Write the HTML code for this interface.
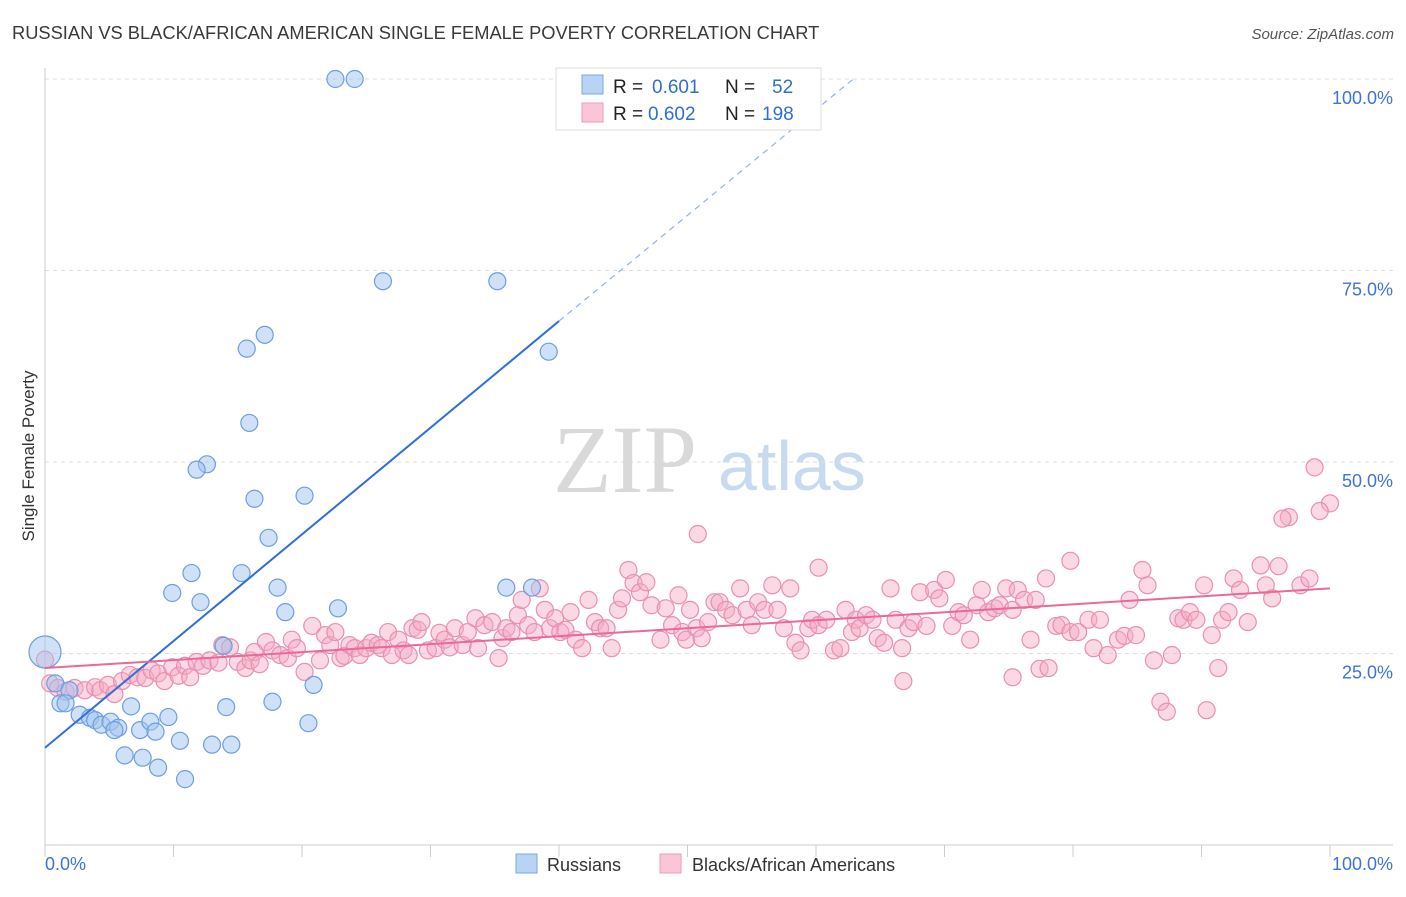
<!DOCTYPE html>
<html><head><meta charset="utf-8"><style>
body{margin:0;background:#fff;width:1406px;height:892px;overflow:hidden;font-family:"Liberation Sans",sans-serif}
</style></head><body>
<svg id="chart" width="1406" height="892" xmlns="http://www.w3.org/2000/svg" font-family="Liberation Sans, sans-serif">
<text x="12" y="39" font-size="18.3" fill="#3a3a3a">RUSSIAN VS BLACK/AFRICAN AMERICAN SINGLE FEMALE POVERTY CORRELATION CHART</text>
<text x="1394" y="39" font-size="15" fill="#555" text-anchor="end" font-style="italic">Source: ZipAtlas.com</text>
<g>
<text x="553" y="492" font-size="96" font-family="Liberation Serif, serif" fill="#d9d9d9">ZIP</text>
<text x="718" y="490" font-size="70" fill="#c8daf0">atlas</text>
</g>
<g id="grid"></g>
<g id="axes"></g>
<g id="marks"></g>
<text transform="translate(34,456) rotate(-90)" font-size="17" fill="#333" text-anchor="middle">Single Female Poverty</text>
<g>
<rect x="556" y="68" width="265" height="62" fill="#fff" stroke="#ddd"/>
<rect x="582" y="75" width="21" height="19" fill="#b9d3f5" stroke="#7aa7e3"/>
<rect x="582" y="103" width="21" height="19" fill="#fac5d6" stroke="#ec9bb6"/>
<text x="613" y="93" font-size="19" fill="#222">R = </text><text x="652" y="93" font-size="19" fill="#2e6fd0">0.601</text>
<text x="725" y="93" font-size="19" fill="#222">N = </text><text x="772" y="93" font-size="19" fill="#2e6fd0">52</text>
<text x="613" y="120" font-size="19" fill="#222">R = </text><text x="648" y="120" font-size="19" fill="#2e6fd0">0.602</text>
<text x="725" y="120" font-size="19" fill="#222">N = </text><text x="762" y="120" font-size="19" fill="#2e6fd0">198</text>
</g>
<g>
<rect x="516" y="854" width="21" height="19" fill="#b9d3f5" stroke="#7aa7e3"/>
<text x="547" y="871" font-size="18" fill="#333">Russians</text>
<rect x="660" y="854" width="21" height="19" fill="#fac5d6" stroke="#ec9bb6"/>
<text x="692" y="871" font-size="18" fill="#333">Blacks/African Americans</text>
</g>
</svg>
<script>
const yTicks=[25,50,75,100];
const yTickLabels=["25.0%","50.0%","75.0%","100.0%"];
const xEndLabels=["0.0%","100.0%"];
const blueX=[22.6,24.1,26.3,35.2,17.1,15.7,39.2,15.9,12.6,11.8,16.3,20.2,17.4,15.3,11.4,9.9,12.1,18.1,18.7,22.8,35.9,37.9,13.9,0.8,1.9,1.2,1.6,2.7,3.5,3.9,4.4,5.1,5.7,6.7,7.4,8.2,8.6,9.6,5.4,6.2,7.6,8.8,10.5,10.9,13.0,14.5,14.1,17.7,20.5,20.9];
const blueY=[100,100,73.6,73.6,66.6,64.8,64.4,55.1,49.7,49.0,45.2,45.6,40.1,35.5,35.5,32.9,31.7,33.6,30.4,30.9,33.6,33.6,26.0,21.1,20.2,18.5,18.5,17.0,16.6,16.3,15.7,16.1,15.3,18.1,15.0,16.1,14.8,16.7,15.0,11.7,11.4,10.1,13.6,8.6,13.1,13.1,18.0,18.7,15.9,20.9];
const blueBigX=[0];
const blueBigY=[25.2];
const pinkX=[0.4,1.0,1.6,2.3,3.1,3.9,4.3,4.9,5.4,6.0,6.6,7.2,7.8,8.3,8.8,9.3,9.9,10.4,10.9,11.3,11.8,12.3,12.8,13.5,13.8,14.4,15.0,15.6,16.0,16.3,16.7,17.2,17.7,18.3,18.9,19.2,19.6,20.2,20.8,21.4,21.8,22.2,22.6,23.0,23.3,23.7,24.1,24.5,25.0,25.4,25.9,26.2,26.7,27.0,27.5,27.9,28.3,28.6,29.0,29.3,29.8,30.4,30.7,31.1,31.5,31.9,32.5,32.9,33.5,33.7,34.2,34.8,35.3,35.6,35.9,36.3,36.8,37.1,37.6,38.1,38.5,38.9,39.3,39.7,40.1,40.5,40.9,41.3,41.8,42.3,42.8,43.2,43.7,44.1,44.6,44.9,45.4,45.8,46.3,46.8,47.2,47.9,48.3,48.8,49.3,49.6,49.9,50.2,50.7,51.1,51.6,52.1,52.5,53.0,53.5,54.1,54.6,55.0,55.5,56.0,56.6,57.0,57.5,58.0,58.4,58.8,59.4,59.7,60.2,60.8,61.4,61.9,62.3,62.8,63.1,63.4,63.9,64.4,64.8,65.3,65.8,66.2,66.7,67.2,67.6,68.1,68.6,69.2,69.6,70.1,70.6,71.1,71.5,72.0,72.5,72.9,73.4,73.9,74.3,74.8,75.3,75.7,76.2,76.7,77.1,77.9,78.7,79.1,79.8,80.4,81.2,81.6,82.1,82.7,83.5,84.0,84.4,84.9,85.4,85.8,86.3,87.7,88.2,88.6,89.1,89.6,90.2,90.8,91.6,92.1,92.5,93.0,93.6,94.6,95.0,95.5,96.0,97.7,98.4,50.8,98.8,100,99.2,96.8,96.3,90.4,86.8,87.3,66.8,75.3,77.4,78.1,91.3,79.8,60.2,0];
const pinkY=[21.1,20.5,20.0,20.5,20.2,20.6,20.2,20.9,19.7,21.4,22.2,21.9,21.8,22.8,22.4,21.4,23.2,22.1,23.4,21.9,23.9,23.4,24.1,23.8,26.1,25.8,23.9,23.1,24.1,25.2,23.6,26.5,25.4,24.8,24.4,26.8,25.7,22.6,28.6,24.1,27.4,26.1,27.8,24.4,24.7,26.1,25.7,24.8,25.7,26.4,26.1,25.7,27.8,24.8,26.8,25.4,24.8,28.3,28.1,29.1,25.4,25.7,27.7,26.8,25.8,28.3,26.1,27.8,29.6,25.7,28.7,29.1,24.4,27.0,28.3,27.8,30.0,32.0,28.7,27.8,33.5,30.7,28.3,29.6,27.8,28.1,30.4,26.8,25.7,32.0,29.1,28.3,28.3,25.7,30.7,32.2,35.9,34.2,33.0,34.3,31.3,26.8,30.9,28.7,32.6,27.8,26.8,30.7,28.3,27.0,29.1,31.7,31.7,30.7,30.0,33.5,30.7,28.7,31.7,30.7,33.9,30.7,28.3,33.5,26.4,25.4,28.3,29.4,28.7,29.4,25.4,25.7,30.7,27.8,29.4,28.3,30.0,29.4,27.0,26.4,33.5,29.4,25.7,28.3,29.1,33.0,28.6,33.3,32.2,34.6,28.6,30.4,30.0,26.8,31.3,33.3,30.4,30.9,31.3,33.5,30.7,33.3,32.0,26.8,32.0,34.8,28.6,28.7,27.8,27.8,29.4,25.7,29.4,24.8,26.8,27.3,32.0,27.4,35.9,33.9,24.1,24.8,29.6,29.4,30.4,29.4,33.9,27.4,29.4,30.4,34.8,33.3,29.1,36.5,33.9,32.2,36.4,33.9,34.8,40.6,49.3,44.6,43.6,42.8,42.6,17.6,18.7,17.4,21.4,21.9,23.0,23.1,23.1,37.1,36.2,24.2];
const blueTrend=[12.7,68.4];
const blueTrendDashEnd=[62.9,100];
const pinkTrend=[23.1,33.5];

const X0=45,X1=1330,Y0=845,Y100=79;
const sx=v=>X0+(X1-X0)*v/100;
const sy=v=>Y0-(Y0-Y100)*v/100;
const NS="http://www.w3.org/2000/svg";
function mk(parent,tag,attrs){const e=document.createElementNS(NS,tag);for(const k in attrs)e.setAttribute(k,attrs[k]);parent.appendChild(e);return e;}
const grid=document.getElementById('grid'),axes=document.getElementById('axes'),marks=document.getElementById('marks');
yTicks.forEach((t,i)=>{
  const l=mk(grid,'line',{x1:X0,x2:1393,y1:sy(t),y2:sy(t),stroke:'#dcdcdc','stroke-dasharray':'4,4'});
  
  
  const tx=mk(axes,'text',{x:1393,y:sy(t)+25,'font-size':18,fill:'#3d74d4','text-anchor':'end'});
  tx.textContent=yTickLabels[i];
  
  
});
mk(axes,'line',{x1:X0,x2:X0,y1:68,y2:Y0,stroke:'#ccc'});
const xa=mk(axes,'line',{x1:X0,x2:1393,y1:Y0,y2:Y0,stroke:'#ccc'});


for(let v=0;v<=100;v+=10){mk(axes,'line',{x1:sx(v),x2:sx(v),y1:Y0,y2:Y0+12,stroke:'#ccc'});}
const xl0=mk(axes,'text',{x:45,y:870,'font-size':18,fill:'#3d74d4'});xl0.textContent=xEndLabels[0];


const xl1=mk(axes,'text',{x:1393,y:870,'font-size':18,fill:'#3d74d4','text-anchor':'end'});xl1.textContent=xEndLabels[1];



pinkX.forEach((x,i)=>{
  const c=mk(marks,'circle',{cx:sx(x),cy:sy(pinkY[i]),r:8.5,fill:'rgba(244,170,196,0.45)',stroke:'#ea8fb0','stroke-width':1.2});
  
  
});
blueX.forEach((x,i)=>{
  const c=mk(marks,'circle',{cx:sx(x),cy:sy(blueY[i]),r:8.5,fill:'rgba(160,195,240,0.5)',stroke:'#6e9ee0','stroke-width':1.2});
  
  
});
blueBigX.forEach((x,i)=>{
  const c=mk(marks,'circle',{cx:sx(x),cy:sy(blueBigY[i]),r:16,fill:'rgba(160,195,240,0.5)',stroke:'#6e9ee0','stroke-width':1.2});
  
  
});
const bl=mk(marks,'line',{x1:sx(0),y1:sy(blueTrend[0]),x2:sx(40),y2:sy(blueTrend[1]),stroke:'#2f6fd8','stroke-width':2});


const bd=mk(marks,'line',{x1:sx(40),y1:sy(blueTrend[1]),x2:sx(blueTrendDashEnd[0]),y2:sy(blueTrendDashEnd[1]),stroke:'#8fb3e8','stroke-width':1.2,'stroke-dasharray':'6,5'});


const pl=mk(marks,'line',{x1:sx(0),y1:sy(pinkTrend[0]),x2:sx(100),y2:sy(pinkTrend[1]),stroke:'#e8699a','stroke-width':2});


</script>
</body></html>
